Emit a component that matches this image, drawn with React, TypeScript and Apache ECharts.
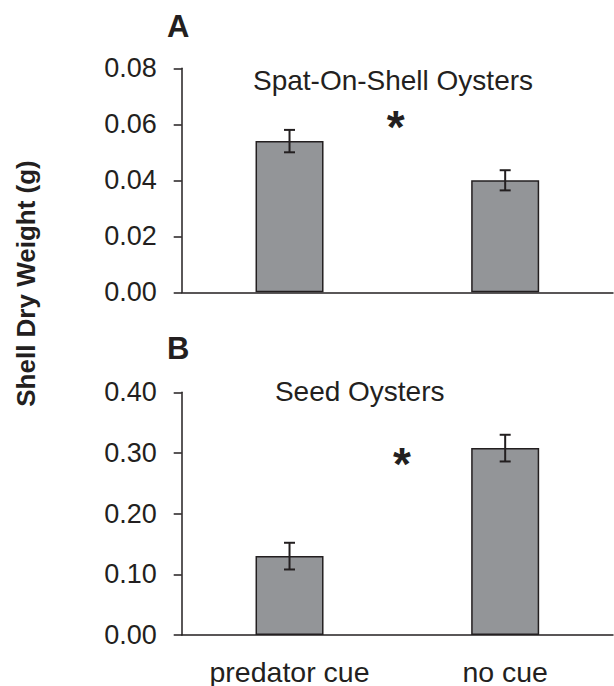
import React, { useEffect, useRef } from "react";
import * as echarts from "echarts";

const categories = ["predator cue", "no cue"];
const spatMeans = [0.054, 0.04];
const spatErrors = [0.004, 0.0036];
const seedMeans = [0.13, 0.308];
const seedErrors = [0.022, 0.022];
const spatAxis = { min: 0, max: 0.08, interval: 0.02 };
const seedAxis = { min: 0, max: 0.4, interval: 0.1 };

const INK = "#231f20";
const BAR = "#939598";
const FONT = "Liberation Sans, Arial, Helvetica, sans-serif";

function errData(means: number[], errs: number[]) {
  return means.map((m, i) => [i, m - errs[i], m + errs[i]]);
}

function errRender(params: any, api: any) {
  const lo = api.coord([api.value(0), api.value(1)]);
  const hi = api.coord([api.value(0), api.value(2)]);
  const half = 5.5;
  const style = { stroke: INK, lineWidth: 2 };
  return {
    type: "group",
    children: [
      { type: "line", shape: { x1: lo[0], y1: lo[1], x2: hi[0], y2: hi[1] }, style },
      { type: "line", shape: { x1: lo[0] - half, y1: lo[1], x2: lo[0] + half, y2: lo[1] }, style },
      { type: "line", shape: { x1: hi[0] - half, y1: hi[1], x2: hi[0] + half, y2: hi[1] }, style },
    ],
  };
}

export default function App() {
  const ref = useRef<HTMLDivElement>(null);
  useEffect(() => {
    if (!ref.current) return;
    const chart = echarts.init(ref.current, null, { renderer: "svg" });
    const yAxisCommon = (ax: any) => ({
      type: "value",
      min: ax.min,
      max: ax.max,
      interval: ax.interval,
      axisLine: { show: true, lineStyle: { color: INK, width: 1.5 } },
      axisTick: { show: true, length: 8, lineStyle: { color: INK, width: 1.5 } },
      splitLine: { show: false },
      axisLabel: {
        color: INK,
        fontFamily: FONT,
        fontSize: 27,
        margin: 25,
        formatter: (v: number) => v.toFixed(2),
      },
    });
    const xAxisCommon = (showLabels: boolean) => ({
      type: "category",
      data: categories,
      axisLine: { show: true, lineStyle: { color: INK, width: 1.5 } },
      axisTick: { show: false },
      axisLabel: {
        show: showLabels,
        color: INK,
        fontFamily: FONT,
        fontSize: 28.5,
        margin: 22,
      },
    });
    chart.setOption({
      animation: false,
      backgroundColor: "#ffffff",
      grid: [
        { left: 181.7, top: 68.3, width: 431.3, height: 224 },
        { left: 181.7, top: 392.3, width: 431.3, height: 246.4 },
      ],
      xAxis: [
        { ...xAxisCommon(false), gridIndex: 0 },
        { ...xAxisCommon(true), gridIndex: 1 },
      ],
      yAxis: [
        { ...yAxisCommon(spatAxis), gridIndex: 0 },
        { ...yAxisCommon(seedAxis), gridIndex: 1 },
      ],
      series: [
        {
          type: "bar",
          xAxisIndex: 0,
          yAxisIndex: 0,
          data: spatMeans,
          barWidth: 68,
          itemStyle: { color: BAR, borderColor: INK, borderWidth: 1.5 },
        },
        {
          type: "custom",
          xAxisIndex: 0,
          yAxisIndex: 0,
          data: errData(spatMeans, spatErrors),
          encode: { x: 0, y: [1, 2] },
          renderItem: errRender,
          z: 5,
        },
        {
          type: "bar",
          xAxisIndex: 1,
          yAxisIndex: 1,
          data: seedMeans,
          barWidth: 68,
          itemStyle: { color: BAR, borderColor: INK, borderWidth: 1.5 },
        },
        {
          type: "custom",
          xAxisIndex: 1,
          yAxisIndex: 1,
          data: errData(seedMeans, seedErrors),
          encode: { x: 0, y: [1, 2] },
          renderItem: errRender,
          z: 5,
        },
      ],
      graphic: [
        {
          type: "text",
          x: 167,
          y: 26,
          style: { text: "A", fill: INK, font: `bold 31px ${FONT}`, textAlign: "left", textVerticalAlign: "middle" },
        },
        {
          type: "text",
          x: 167,
          y: 348.5,
          style: { text: "B", fill: INK, font: `bold 31px ${FONT}`, textAlign: "left", textVerticalAlign: "middle" },
        },
        {
          type: "text",
          x: 393,
          y: 80.5,
          style: { text: "Spat-On-Shell Oysters", fill: INK, font: `28px ${FONT}`, textAlign: "center", textVerticalAlign: "middle" },
        },
        {
          type: "text",
          x: 359.7,
          y: 391,
          style: { text: "Seed Oysters", fill: INK, font: `28px ${FONT}`, textAlign: "center", textVerticalAlign: "middle" },
        },
        {
          type: "text",
          x: 395.6,
          y: 127,
          style: { text: "*", fill: INK, font: `bold 46px ${FONT}`, textAlign: "center", textVerticalAlign: "middle" },
        },
        {
          type: "text",
          x: 402,
          y: 464,
          style: { text: "*", fill: INK, font: `bold 46px ${FONT}`, textAlign: "center", textVerticalAlign: "middle" },
        },
        {
          type: "text",
          x: 25.5,
          y: 283.5,
          rotation: Math.PI / 2,
          style: { text: "Shell Dry Weight (g)", fill: INK, font: `bold 26px ${FONT}`, textAlign: "center", textVerticalAlign: "middle" },
        },
      ],
    });
    return () => chart.dispose();
  }, []);
  return (
    <div
      ref={ref}
      style={{ position: "fixed", left: 0, top: 0, width: 614, height: 686, background: "#fff" }}
    />
  );
}
